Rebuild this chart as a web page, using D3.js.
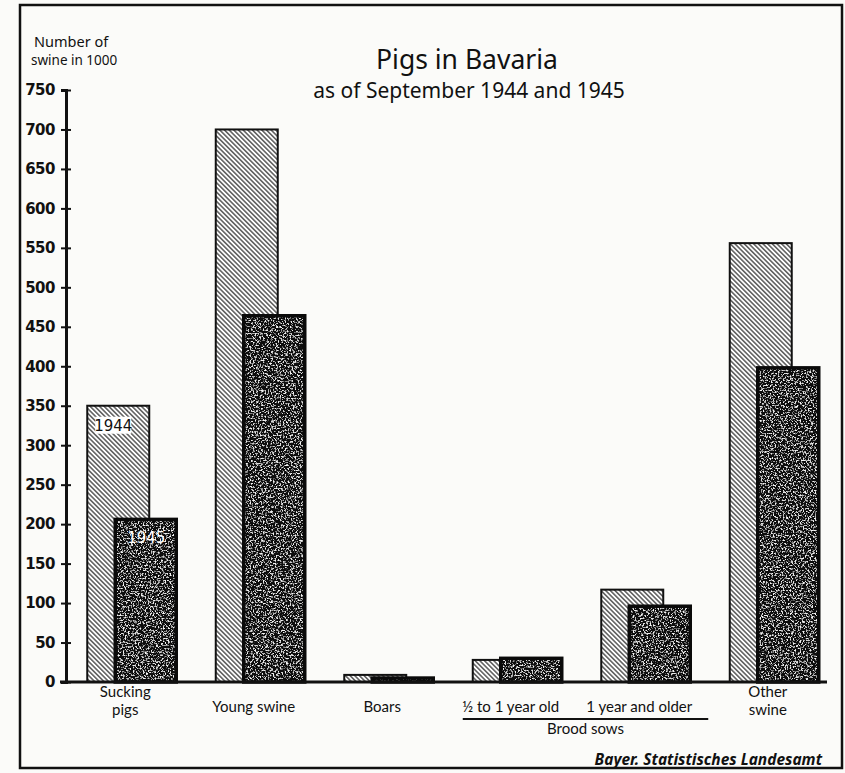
<!DOCTYPE html>
<html>
<head>
<meta charset="utf-8">
<script src="https://cdn.jsdelivr.net/npm/d3@7"></script>
<style>
  body { margin: 0; background: #fbfbf9; }
  svg { display: block; }
  text { fill: #111; }
</style>
</head>
<body>
<svg id="chart"></svg>
<script>
// categories along the x axis (brood sows split in two)
var categories = ['Sucking pigs', 'Young swine', 'Boars', 'Brood sows, 1/2 to 1 year old', 'Brood sows, 1 year and older', 'Other swine'];
var labelLines = [['Sucking', 'pigs'], ['Young swine'], ['Boars'], ['\u00bd to 1 year old'], ['1 year and older'], ['Other', 'swine']];
// number of swine in 1000
var values1944 = [350, 700, 9, 28, 117, 556];
var values1945 = [206, 464, 5, 30, 96, 398];
var yTicks = [0, 50, 100, 150, 200, 250, 300, 350, 400, 450, 500, 550, 600, 650, 700, 750];

var width = 845, height = 773;
var svg = d3.select('#chart').attr('width', width).attr('height', height);

var x = d3.scaleBand().domain(categories).range([68, 839]).padding(0);
var y = d3.scaleLinear().domain([0, 750]).range([682, 90]);

var font = '"Noto Sans", Lato, sans-serif';
var narrow = '"Liberation Sans Narrow", "DejaVu Sans", sans-serif';

var defs = svg.append('defs');

// diagonal hatching for 1944
var hatch = defs.append('pattern')
  .attr('id', 'hatch')
  .attr('patternUnits', 'userSpaceOnUse')
  .attr('width', 3.3).attr('height', 10)
  .attr('patternTransform', 'rotate(-45)');
hatch.append('rect').attr('width', 3.3).attr('height', 10).attr('fill', '#fff');
hatch.append('line').attr('x1', 0.8).attr('y1', 0).attr('x2', 0.8).attr('y2', 10)
  .attr('stroke', '#111').attr('stroke-width', 1.05);

// speckled black for 1945
var speckle = defs.append('filter').attr('id', 'speckle')
  .attr('x', 0).attr('y', 0).attr('width', '100%').attr('height', '100%');
speckle.append('feTurbulence').attr('type', 'fractalNoise')
  .attr('baseFrequency', 0.6).attr('numOctaves', 3).attr('seed', 7).attr('result', 'noise');
speckle.append('feColorMatrix').attr('in', 'noise').attr('type', 'matrix')
  .attr('values', '0 0 0 0 0.9  0 0 0 0 0.9  0 0 0 0 0.9  5 0 0 0 -2.6')
  .attr('result', 'dots');
speckle.append('feComposite').attr('in', 'dots').attr('in2', 'SourceGraphic')
  .attr('operator', 'in').attr('result', 'clipped');
var merge = speckle.append('feMerge');
merge.append('feMergeNode').attr('in', 'SourceGraphic');
merge.append('feMergeNode').attr('in', 'clipped');

// frame
svg.append('rect')
  .attr('x', 20).attr('y', 5).attr('width', 822).attr('height', 763)
  .attr('fill', 'none').attr('stroke', '#111').attr('stroke-width', 2.5);

// titles
svg.append('text')
  .attr('x', 467).attr('y', 69)
  .attr('text-anchor', 'middle')
  .style('font-family', font)
  .style('font-size', '26.5px')
  .text('Pigs in Bavaria');
svg.append('text')
  .attr('x', 469).attr('y', 98)
  .attr('text-anchor', 'middle')
  .style('font-family', font)
  .style('font-size', '21px')
  .text('as of September 1944 and 1945');

svg.append('text')
  .attr('x', 34).attr('y', 47)
  .style('font-family', font)
  .style('font-size', '14.5px')
  .text('Number of');
svg.append('text')
  .attr('x', 31).attr('y', 65)
  .style('font-family', font)
  .style('font-size', '13.5px')
  .text('swine in 1000');

var barW = 62, shift = 28;
var groups = svg.append('g').selectAll('g.group')
  .data(categories)
  .enter().append('g').attr('class', 'group');

// 1944 bars
groups.append('rect')
  .attr('x', function (d) { return x(d) + x.bandwidth() / 2 - 45; })
  .attr('y', function (d, i) { return y(values1944[i]); })
  .attr('width', barW)
  .attr('height', function (d, i) { return y(0) - y(values1944[i]); })
  .attr('fill', 'url(#hatch)')
  .attr('stroke', '#111').attr('stroke-width', 2);

// 1945 bars
groups.append('rect')
  .attr('x', function (d) { return x(d) + x.bandwidth() / 2 - 45 + shift; })
  .attr('y', function (d, i) { return y(values1945[i]); })
  .attr('width', barW - 1)
  .attr('height', function (d, i) { return y(0) - y(values1945[i]); })
  .attr('fill', '#0a0a0a')
  .attr('filter', 'url(#speckle)');
groups.append('rect')
  .attr('x', function (d) { return x(d) + x.bandwidth() / 2 - 45 + shift; })
  .attr('y', function (d, i) { return y(values1945[i]); })
  .attr('width', barW - 1)
  .attr('height', function (d, i) { return y(0) - y(values1945[i]); })
  .attr('fill', 'none')
  .attr('stroke', '#0a0a0a').attr('stroke-width', 3.5);

// year labels inside the first pair of bars
var c0 = x(categories[0]) + x.bandwidth() / 2;
svg.append('rect')
  .attr('x', c0 - 37).attr('y', y(values1944[0]) + 11)
  .attr('width', 36).attr('height', 17).attr('fill', '#fff');
svg.append('text')
  .attr('x', c0 - 19).attr('y', y(values1944[0]) + 25)
  .attr('text-anchor', 'middle')
  .style('font-family', narrow)
  .style('font-size', '15px')
  .text('1944');
svg.append('text')
  .attr('x', c0 + 14).attr('y', y(values1945[0]) + 24)
  .attr('text-anchor', 'middle')
  .style('font-family', narrow)
  .style('font-size', '15px')
  .style('fill', '#fff')
  .text('1945');

// y axis
var yAxis = svg.append('g')
  .attr('transform', 'translate(66,0)')
  .call(d3.axisLeft(y).tickValues(yTicks).tickSize(5).tickPadding(6));
yAxis.select('.domain').attr('stroke', '#111').attr('stroke-width', 3);
yAxis.selectAll('.tick line').attr('x1', -5).attr('x2', 5)
  .attr('stroke', '#111').attr('stroke-width', 2);
yAxis.selectAll('.tick text')
  .style('font-family', narrow)
  .style('font-size', '15px')
  .style('font-weight', 'bold')
  .style('letter-spacing', '-0.5px')
  .attr('fill', '#111');

// baseline
svg.append('line')
  .attr('x1', 60).attr('x2', 827)
  .attr('y1', y(0)).attr('y2', y(0))
  .attr('stroke', '#111').attr('stroke-width', 3);

// x labels, one text per line
var labelFont = 'Lato, "Noto Sans", sans-serif';
categories.forEach(function (d, i) {
  var lines = labelLines[i];
  lines.forEach(function (line, j) {
    svg.append('text')
      .attr('x', x(d) + x.bandwidth() / 2 - 7)
      .attr('y', lines.length > 1 ? 697 + j * 18 : 712)
      .attr('text-anchor', 'middle')
      .style('font-family', labelFont)
      .style('font-size', '15px')
      .text(line);
  });
});

// brood sows group label
var bx0 = x(categories[3]) + x.bandwidth() / 2 - 55;
var bx1 = x(categories[4]) + x.bandwidth() / 2 + 62;
svg.append('line')
  .attr('x1', bx0).attr('x2', bx1).attr('y1', 719).attr('y2', 719)
  .attr('stroke', '#111').attr('stroke-width', 1.8);
svg.append('text')
  .attr('x', (bx0 + bx1) / 2).attr('y', 734)
  .attr('text-anchor', 'middle')
  .style('font-family', labelFont)
  .style('font-size', '15px')
  .text('Brood sows');

// source
svg.append('text')
  .attr('x', 822).attr('y', 765)
  .attr('text-anchor', 'end')
  .style('font-family', font)
  .style('font-size', '15.5px')
  .style('font-style', 'italic')
  .style('font-weight', 'bold')
  .text('Bayer. Statistisches Landesamt');
</script>
</body>
</html>
